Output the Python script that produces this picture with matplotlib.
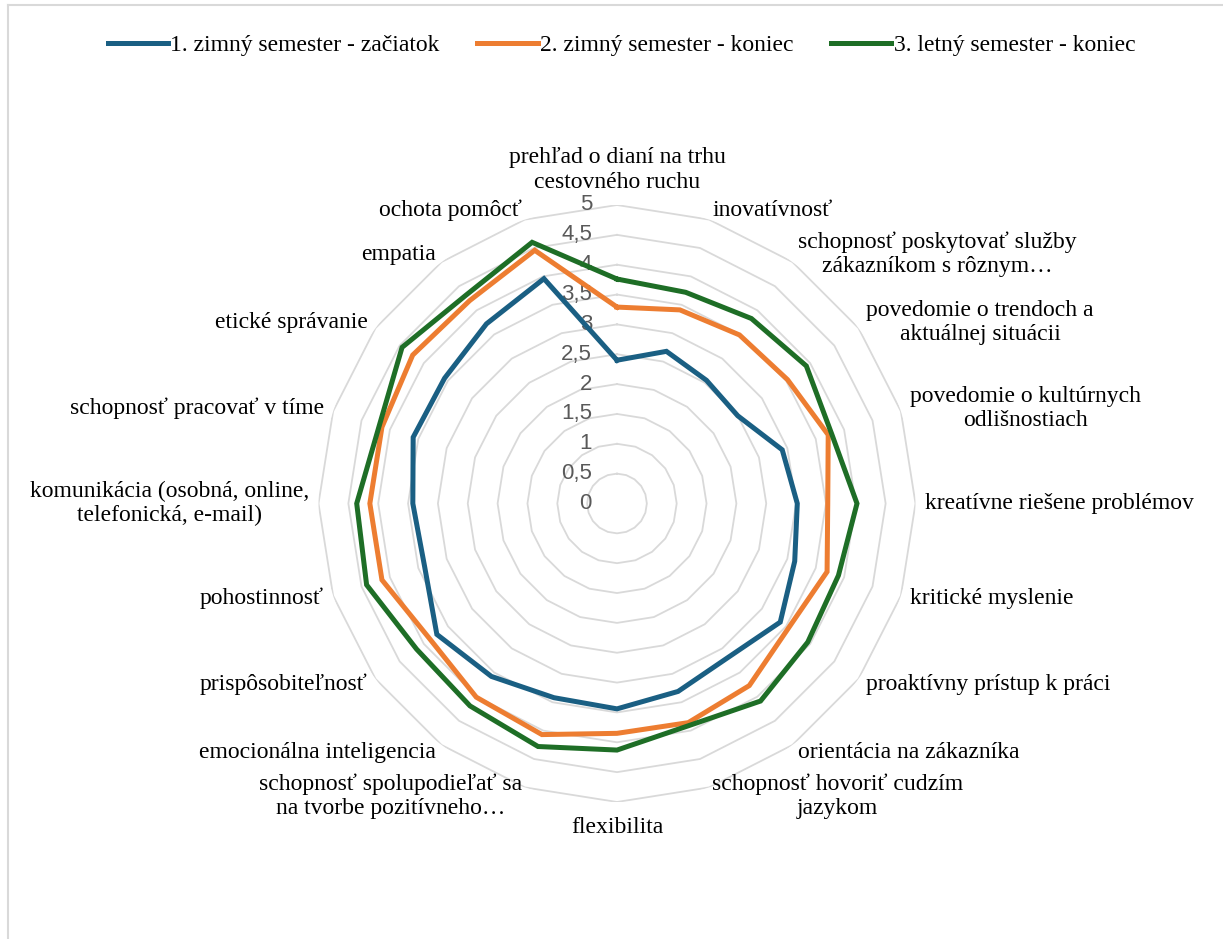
import numpy as np
import matplotlib
matplotlib.use("Agg")
import matplotlib.pyplot as plt
from matplotlib.lines import Line2D

# kategórie (v poradí v smere hodinových ručičiek od vrchu)
categories = [
    "prehľad o dianí na trhu\ncestovného ruchu",
    "inovatívnosť",
    "schopnosť poskytovať služby\nzákazníkom s rôznym…",
    "povedomie o trendoch a\naktuálnej situácii",
    "povedomie o kultúrnych\nodlišnostiach",
    "kreatívne riešene problémov",
    "kritické myslenie",
    "proaktívny prístup k práci",
    "orientácia na zákazníka",
    "schopnosť hovoriť cudzím\njazykom",
    "flexibilita",
    "schopnosť spolupodieľať sa\nna tvorbe pozitívneho…",
    "emocionálna inteligencia",
    "prispôsobiteľnosť",
    "pohostinnosť",
    "komunikácia (osobná, online,\ntelefonická, e-mail)",
    "schopnosť pracovať v tíme",
    "etické správanie",
    "empatia",
    "ochota pomôcť",
]

series_names = [
    "1. zimný semester - začiatok",
    "2. zimný semester - koniec",
    "3. letný semester - koniec",
]

zimny_zaciatok = [2.40, 2.68, 2.55, 2.50, 2.91, 3.02, 3.13, 3.38, 3.18, 3.31,
                  3.44, 3.42, 3.58, 3.73, 3.39, 3.42, 3.59, 3.57, 3.72, 3.96]
zimny_koniec = [3.29, 3.41, 3.49, 3.53, 3.72, 3.53, 3.70, 3.55, 3.77, 3.86,
                3.85, 4.07, 4.01, 3.87, 4.14, 4.14, 4.14, 4.23, 4.20, 4.46]
letny_koniec = [3.76, 3.72, 3.83, 3.92, 3.78, 4.02, 3.90, 3.95, 4.09, 3.91,
                4.13, 4.28, 4.19, 4.15, 4.41, 4.36, 4.19, 4.45, 4.31, 4.60]

ticks = [0, 0.5, 1, 1.5, 2, 2.5, 3, 3.5, 4, 4.5, 5]
tick_labels = ["0", "0,5", "1", "1,5", "2", "2,5", "3", "3,5", "4", "4,5", "5"]

colors = ["#1A5F83", "#ED7D31", "#1E6E26"]

W, H = 1223, 939
fig = plt.figure(figsize=(W / 100, H / 100), dpi=100)

# stred grafu ~ (617, 503.5) px, polomer ~298.5 px
cx, cy, R = 617, 503.5, 298.5
ax = fig.add_axes([(cx - R) / W, (H - cy - R) / H, 2 * R / W, 2 * R / H],
                  projection="polar")
ax.set_theta_offset(np.pi / 2)
ax.set_theta_direction(-1)
ax.set_ylim(0, 5)
ax.set_xticks([])
ax.set_yticks([])
ax.grid(False)
ax.spines["polar"].set_visible(False)

n = len(categories)
angles = np.linspace(0, 2 * np.pi, n, endpoint=False)
closed = np.append(angles, angles[0])

# mnohouholníková mriežka
for t in ticks[1:]:
    ax.plot(closed, [t] * (n + 1), color="#D9D9D9", lw=1.3, zorder=1)

# popisky osi hodnôt
for t, lab in zip(ticks, tick_labels):
    ax.annotate(lab, xy=(0, t), xytext=(-18, 0), textcoords="offset points",
                ha="right", va="center", fontsize=16, color="#595959",
                family="Liberation Sans", zorder=2)

# dáta
for vals, name, col in zip([zimny_zaciatok, zimny_koniec, letny_koniec],
                           series_names, colors):
    ax.plot(closed, vals + vals[:1], color=col, lw=3.6, label=name,
            solid_joinstyle="miter", zorder=3)

# popisky kategórií
for ang, lab in zip(angles, categories):
    dx, dy = np.sin(ang), np.cos(ang)
    if abs(dx) < 1e-6:
        ha = "center"
        va = "bottom" if dy > 0 else "top"
        off = (0, 9 if dy > 0 else -11)
    else:
        ha = "left" if dx > 0 else "right"
        va = "center"
        off = (dx * 7, dy * 7)
    ax.annotate(lab, xy=(ang, 5), xytext=off, textcoords="offset points",
                ha=ha, va=va, multialignment="center", fontsize=17,
                family="Liberation Serif", color="black",
                linespacing=1.2, annotation_clip=False)

handles, labels = ax.get_legend_handles_labels()
fig.legend(handles, labels, loc="center",
           bbox_to_anchor=(0.5 + 10 / W, 1 - 45 / H),
           ncol=3, frameon=False, handlelength=2.55, handletextpad=0.1,
           columnspacing=1.6, prop={"family": "Liberation Serif", "size": 17})

# orámovanie oblasti grafu
fig.add_artist(Line2D([8 / W, 8 / W], [0, 1 - 5 / H], transform=fig.transFigure,
                      color="#D9D9D9", lw=1.5))
fig.add_artist(Line2D([8 / W, 1], [1 - 5 / H, 1 - 5 / H], transform=fig.transFigure,
                      color="#D9D9D9", lw=1.5))

fig.savefig("out.png", dpi=100, facecolor="white")
